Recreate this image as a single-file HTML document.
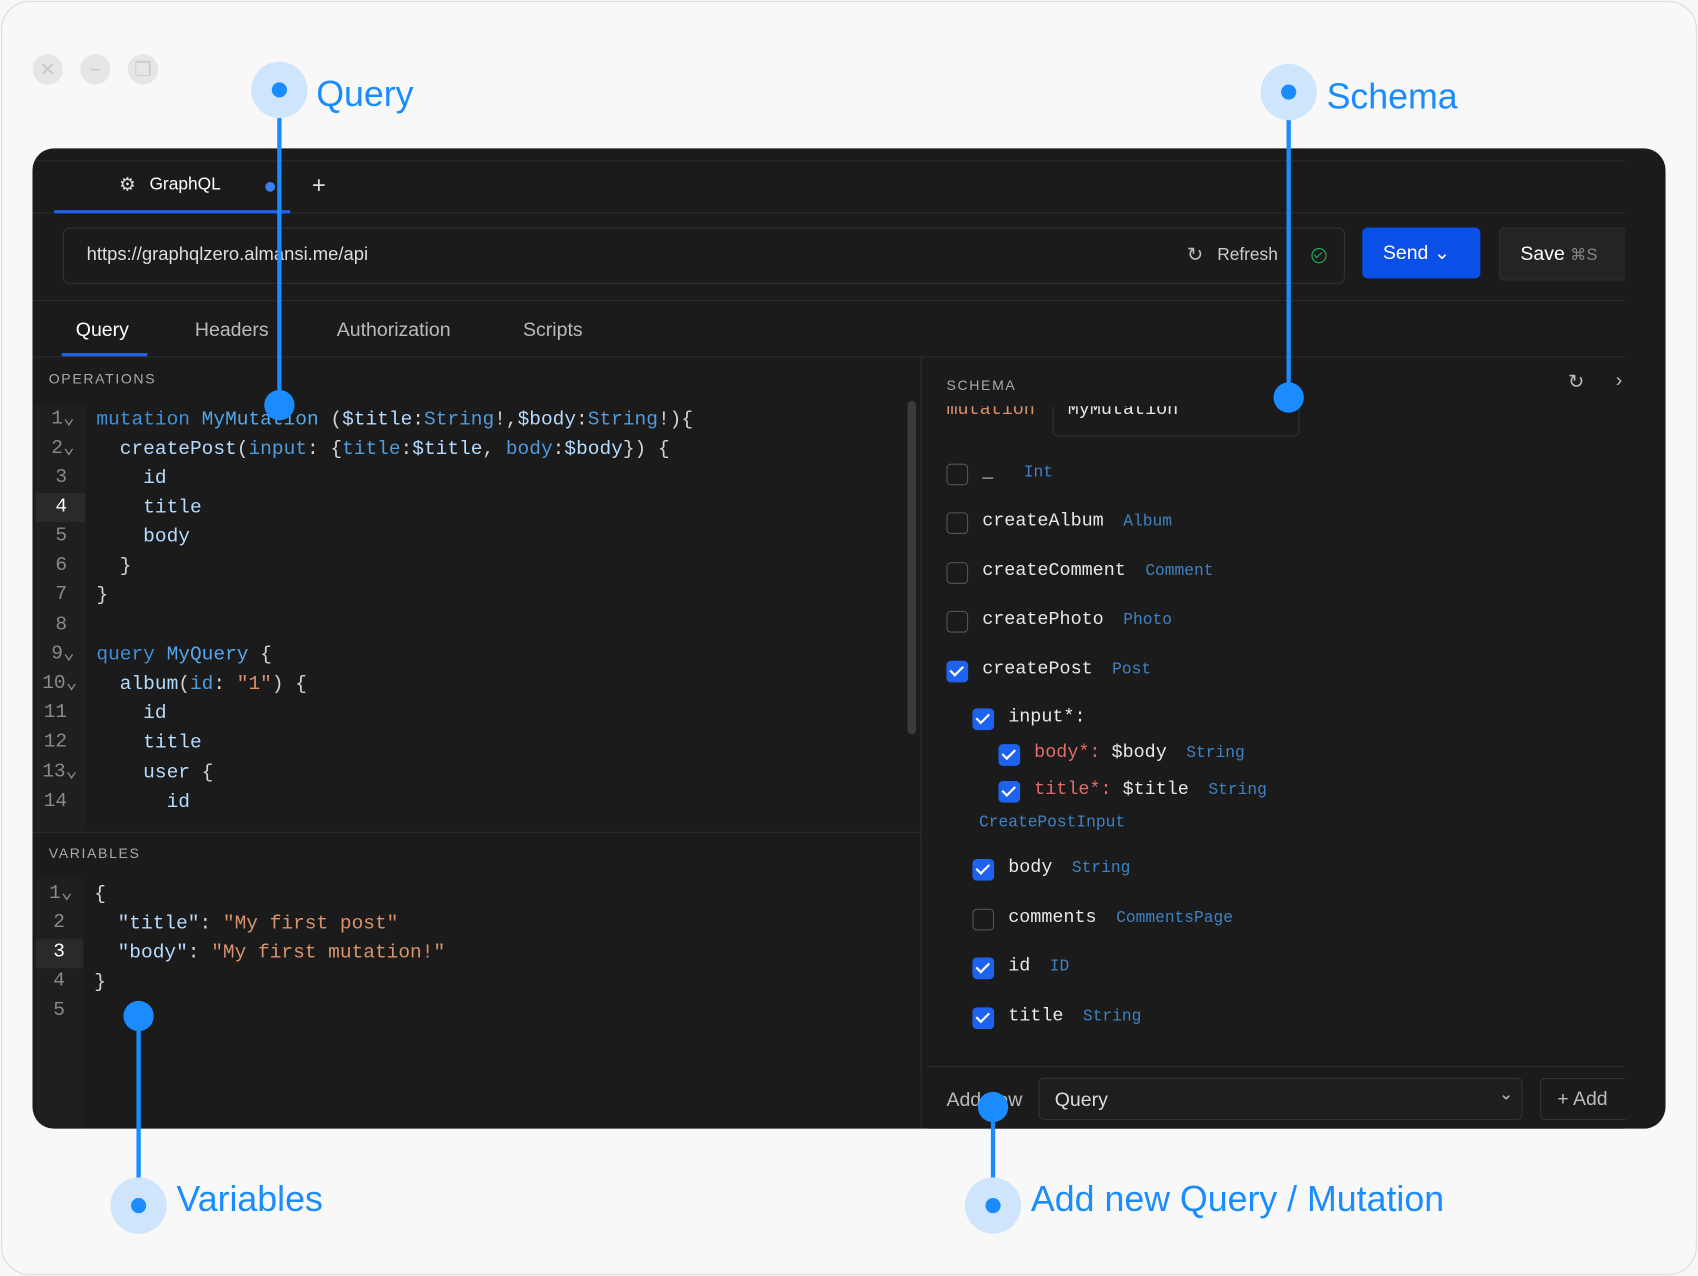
<!DOCTYPE html>
<html><head><meta charset="utf-8"><style>
html,body{margin:0;padding:0;width:1698px;height:1276px;overflow:hidden;background:#f7f7f7}
#w{position:absolute;left:0;top:0;width:1568px;height:1178px;transform:scale(1.08291,1.08319);transform-origin:0 0;font-family:"Liberation Sans",sans-serif}
.a{position:absolute}
.m{font-family:"Liberation Mono",monospace}
.frame{left:1px;top:1px;width:1564px;height:1174px;border:1px solid #dcdcdc;border-radius:26px;background:#f8f8f8}
.wc{width:28px;height:28px;border-radius:50%;background:#e6e6e6;color:#c8c8c8;text-align:center;line-height:28px;font-size:18px}
.panel{left:30px;top:137px;width:1508px;height:905px;background:#1b1b1b;border-radius:20px;overflow:hidden}
.hl{height:1px;background:#2c2c2c}
.code div{position:absolute;white-space:pre;font-size:18px;line-height:20px}
.ln{color:#8a8a8a;font-size:17px;text-align:right;width:30px}
.k{color:#3f8fd8}.n{color:#55a6ec}.f{color:#b5dcff}.p{color:#d4d4d4}.t{color:#4f9bdc}.s{color:#d9926a}.r{color:#e06c6c}
.cb{position:absolute;width:18px;height:18px;border:1.5px solid #555;border-radius:4px}
.cb.on{background:#1e63f0;border-color:#1e63f0}
.cb.on:after{content:"";position:absolute;left:5px;top:1px;width:5px;height:10px;border:solid #fff;border-width:0 2.5px 2.5px 0;transform:rotate(45deg)}
.sr{position:absolute;white-space:pre;font-size:17px;color:#e8e8e8;font-family:"Liberation Mono",monospace}
.sr i{font-style:normal;color:#3f82c4;font-size:15px;margin-left:18px}
.big{width:52px;height:52px;border-radius:50%;background:#cfe5fb}
.big:after{content:"";position:absolute;left:19px;top:19px;width:14px;height:14px;border-radius:50%;background:#1a8cff}
.dot{width:28px;height:28px;border-radius:50%;background:#1a8cff}
.vl{width:4px;background:#1a8cff}
.lab{color:#1a8cff;font-size:33px;white-space:nowrap}
</style></head><body><div id="w">
<div class="a frame"></div>
<div class="a wc" style="left:30px;top:50px">✕</div>
<div class="a wc" style="left:74px;top:50px">−</div>
<div class="a wc" style="left:118px;top:50px">❐</div>

<div class="a panel">
 <div class="a hl" style="left:0;top:11px;width:1470px"></div>
 <div class="a" style="left:80px;top:24px;color:#ddd;font-size:17px">⚙</div>
 <div class="a" style="left:108px;top:25px;color:#fff;font-size:16px">GraphQL</div>
 <div class="a" style="left:215px;top:31px;width:9px;height:9px;border-radius:50%;background:#3b7ff0"></div>
 <div class="a" style="left:258px;top:21px;color:#ddd;font-size:22px">+</div>
 <div class="a hl" style="left:0;top:59px;width:1470px"></div>
 <div class="a" style="left:20px;top:57px;width:218px;height:3px;background:#1e63f0"></div>

 <div class="a" style="left:28px;top:73px;width:1182px;height:50px;border:1px solid #333;border-radius:6px"></div>
 <div class="a" style="left:50px;top:88px;color:#ddd;font-size:17px">https://graphqlzero.almansi.me/api</div>
 <div class="a" style="left:1066px;top:88px;color:#bbb;font-size:18px">↻</div>
 <div class="a" style="left:1094px;top:90px;color:#ccc;font-size:16px">Refresh</div>
 <div class="a" style="left:1181px;top:92px;width:12px;height:12px;border:1.5px solid #22b35e;border-radius:50%"><div class="a" style="left:3px;top:1px;width:3px;height:6px;border:solid #22b35e;border-width:0 1.5px 1.5px 0;transform:rotate(45deg)"></div></div>
 <div class="a" style="left:1228px;top:73px;width:109px;height:47px;background:#0a4fe8;border-radius:5px;color:#fff;font-size:18px;line-height:47px;text-indent:19px">Send ⌄</div>
 <div class="a" style="left:1354px;top:73px;width:116px;height:47px;background:#242424;border:1px solid #2e2e2e;border-right:none;border-radius:5px 0 0 5px;color:#fff;font-size:18px;line-height:47px;text-indent:19px;white-space:nowrap">Save <span style="color:#888;font-size:15px">⌘S</span></div>
 <div class="a hl" style="left:0;top:140px;width:1470px"></div>
 <div class="a" style="left:40px;top:157px;color:#fff;font-size:18px">Query</div>
 <div class="a" style="left:150px;top:157px;color:#bbb;font-size:18px">Headers</div>
 <div class="a" style="left:281px;top:157px;color:#bbb;font-size:18px">Authorization</div>
 <div class="a" style="left:453px;top:157px;color:#bbb;font-size:18px">Scripts</div>
 <div class="a" style="left:27px;top:189px;width:79px;height:3px;background:#1e63f0"></div>
 <div class="a hl" style="left:0;top:192px;width:1470px"></div>
 <div class="a" style="left:820px;top:193px;width:1px;height:712px;background:#2c2c2c"></div>

 <div class="a" style="left:15px;top:205px;color:#aaa;font-size:13px;letter-spacing:1.5px">OPERATIONS</div>
 <div class="a" style="left:3px;top:236px;width:46px;height:394px;background:#1f1f1f"></div>
 <div class="a" style="left:3px;top:318px;width:46px;height:27px;background:#2a2a2a"></div>
 <div class="a" style="left:808px;top:233px;width:8px;height:308px;background:#3a3a3a;border-radius:4px"></div>
 <div class="a hl" style="left:0;top:631px;width:820px"></div>
 <div class="a" style="left:15px;top:643px;color:#aaa;font-size:13px;letter-spacing:1.5px">VARIABLES</div>
 <div class="a" style="left:3px;top:674px;width:44px;height:231px;background:#1f1f1f"></div>
 <div class="a" style="left:3px;top:730px;width:44px;height:27px;background:#2a2a2a"></div>

 <div class="a code m" style="left:0;top:0">
  <div class="ln" style="left:9px;top:240px">1⌄</div><div style="left:59px;top:241px"><span class="k">mutation</span> <span class="n">MyMutation</span> <span class="p">(</span><span class="f">$title</span><span class="p">:</span><span class="t">String</span><span class="p">!,</span><span class="f">$body</span><span class="p">:</span><span class="t">String</span><span class="p">!){</span></div>
  <div class="ln" style="left:9px;top:267px">2⌄</div><div style="left:59px;top:268px">  <span class="f">createPost</span><span class="p">(</span><span class="t">input</span><span class="p">: {</span><span class="t">title</span><span class="p">:</span><span class="f">$title</span><span class="p">, </span><span class="t">body</span><span class="p">:</span><span class="f">$body</span><span class="p">}) {</span></div>
  <div class="ln" style="left:2px;top:294px">3</div><div class="f" style="left:59px;top:295px">    id</div>
  <div class="ln" style="left:2px;top:321px;color:#fff">4</div><div class="f" style="left:59px;top:322px">    title</div>
  <div class="ln" style="left:2px;top:348px">5</div><div class="f" style="left:59px;top:349px">    body</div>
  <div class="ln" style="left:2px;top:375px">6</div><div class="p" style="left:59px;top:376px">  }</div>
  <div class="ln" style="left:2px;top:402px">7</div><div class="p" style="left:59px;top:403px">}</div>
  <div class="ln" style="left:2px;top:430px">8</div>
  <div class="ln" style="left:9px;top:457px">9⌄</div><div style="left:59px;top:458px"><span class="k">query</span> <span class="n">MyQuery</span> <span class="p">{</span></div>
  <div class="ln" style="left:9px;top:484px">10⌄</div><div style="left:59px;top:485px">  <span class="f">album</span><span class="p">(</span><span class="t">id</span><span class="p">: </span><span class="s">"1"</span><span class="p">) {</span></div>
  <div class="ln" style="left:2px;top:511px">11</div><div class="f" style="left:59px;top:512px">    id</div>
  <div class="ln" style="left:2px;top:538px">12</div><div class="f" style="left:59px;top:539px">    title</div>
  <div class="ln" style="left:9px;top:566px">13⌄</div><div style="left:59px;top:567px"><span class="f">    user</span><span class="p"> {</span></div>
  <div class="ln" style="left:2px;top:593px">14</div><div class="f" style="left:59px;top:594px">      id</div>

  <div class="ln" style="left:7px;top:678px">1⌄</div><div class="p" style="left:57px;top:679px">{</div>
  <div class="ln" style="left:0px;top:705px">2</div><div style="left:57px;top:706px">  <span class="f">"title"</span><span class="p">: </span><span class="s">"My first post"</span></div>
  <div class="ln" style="left:0px;top:732px;color:#fff">3</div><div style="left:57px;top:733px">  <span class="f">"body"</span><span class="p">: </span><span class="s">"My first mutation!"</span></div>
  <div class="ln" style="left:0px;top:759px">4</div><div class="p" style="left:57px;top:760px">}</div>
  <div class="ln" style="left:0px;top:786px">5</div>
 </div>

 <div class="a" style="left:844px;top:211px;color:#aaa;font-size:13px;letter-spacing:1.5px">SCHEMA</div>
 <div class="a" style="left:1418px;top:205px;color:#bbb;font-size:18px">↻</div>
 <div class="a" style="left:1462px;top:204px;color:#bbb;font-size:18px">›</div>
 <div class="a" style="left:840px;top:238px;width:630px;height:28px;overflow:hidden">
  <div class="a m" style="left:4px;top:-6px;color:#d9926a;font-size:17px">mutation</div>
  <div class="a" style="left:102px;top:-12px;width:226px;height:38px;border:1px solid #333;border-radius:5px"></div>
  <div class="a m" style="left:116px;top:-6px;color:#e8e8e8;font-size:17px">MyMutation</div>
 </div>
 <div class="cb" style="left:844px;top:291px"></div><div class="sr" style="left:877px;top:290px">_ <i>Int</i></div>
 <div class="cb" style="left:844px;top:336px"></div><div class="sr" style="left:877px;top:335px">createAlbum<i>Album</i></div>
 <div class="cb" style="left:844px;top:382px"></div><div class="sr" style="left:877px;top:381px">createComment<i>Comment</i></div>
 <div class="cb" style="left:844px;top:427px"></div><div class="sr" style="left:877px;top:426px">createPhoto<i>Photo</i></div>
 <div class="cb on" style="left:844px;top:473px"></div><div class="sr" style="left:877px;top:472px">createPost<i>Post</i></div>
 <div class="cb on" style="left:868px;top:517px"></div><div class="sr r" style="left:901px;top:516px">input*:</div>
 <div class="cb on" style="left:892px;top:550px"></div><div class="sr" style="left:925px;top:549px"><span class="r">body*:</span> $body<i>String</i></div>
 <div class="cb on" style="left:892px;top:584px"></div><div class="sr" style="left:925px;top:583px"><span class="r">title*:</span> $title<i>String</i></div>
 <div class="sr" style="left:874px;top:614px;color:#3f82c4;font-size:15px">CreatePostInput</div>
 <div class="cb on" style="left:868px;top:656px"></div><div class="sr" style="left:901px;top:655px">body<i>String</i></div>
 <div class="cb" style="left:868px;top:702px"></div><div class="sr" style="left:901px;top:701px">comments<i>CommentsPage</i></div>
 <div class="cb on" style="left:868px;top:747px"></div><div class="sr" style="left:901px;top:746px">id<i>ID</i></div>
 <div class="cb on" style="left:868px;top:793px"></div><div class="sr" style="left:901px;top:792px">title<i>String</i></div>
 <div class="a" style="left:826px;top:847px;width:644px;height:58px;background:#1b1b1b;border-top:1px solid #2c2c2c"></div>
 <div class="a" style="left:844px;top:868px;color:#bbb;font-size:18px">Add new</div>
 <div class="a" style="left:929px;top:858px;width:445px;height:37px;border:1px solid #333;border-radius:5px;background:#1e1e1e"></div>
 <div class="a" style="left:944px;top:868px;color:#ddd;font-size:18px">Query</div>
 <div class="a" style="left:1354px;top:863px;color:#bbb;font-size:16px">⌄</div>
 <div class="a" style="left:1392px;top:858px;width:78px;height:37px;border:1px solid #333;border-right:none;border-radius:5px 0 0 5px;color:#bbb;font-size:18px;line-height:37px;text-indent:15px">+ Add</div>
</div>

<div class="a vl" style="left:256px;top:100px;height:274px"></div>
<div class="a big" style="left:232px;top:57px"></div>
<div class="a dot" style="left:244px;top:360px"></div>
<div class="a lab" style="left:292px;top:68px">Query</div>

<div class="a vl" style="left:1188px;top:100px;height:267px"></div>
<div class="a big" style="left:1164px;top:59px"></div>
<div class="a dot" style="left:1176px;top:353px"></div>
<div class="a lab" style="left:1225px;top:70px">Schema</div>

<div class="a vl" style="left:126px;top:938px;height:160px"></div>
<div class="a dot" style="left:114px;top:924px"></div>
<div class="a big" style="left:102px;top:1087px"></div>
<div class="a lab" style="left:163px;top:1088px">Variables</div>

<div class="a vl" style="left:915px;top:1022px;height:76px"></div>
<div class="a dot" style="left:903px;top:1008px"></div>
<div class="a big" style="left:891px;top:1087px"></div>
<div class="a lab" style="left:952px;top:1088px">Add new Query / Mutation</div>
</div></body></html>
